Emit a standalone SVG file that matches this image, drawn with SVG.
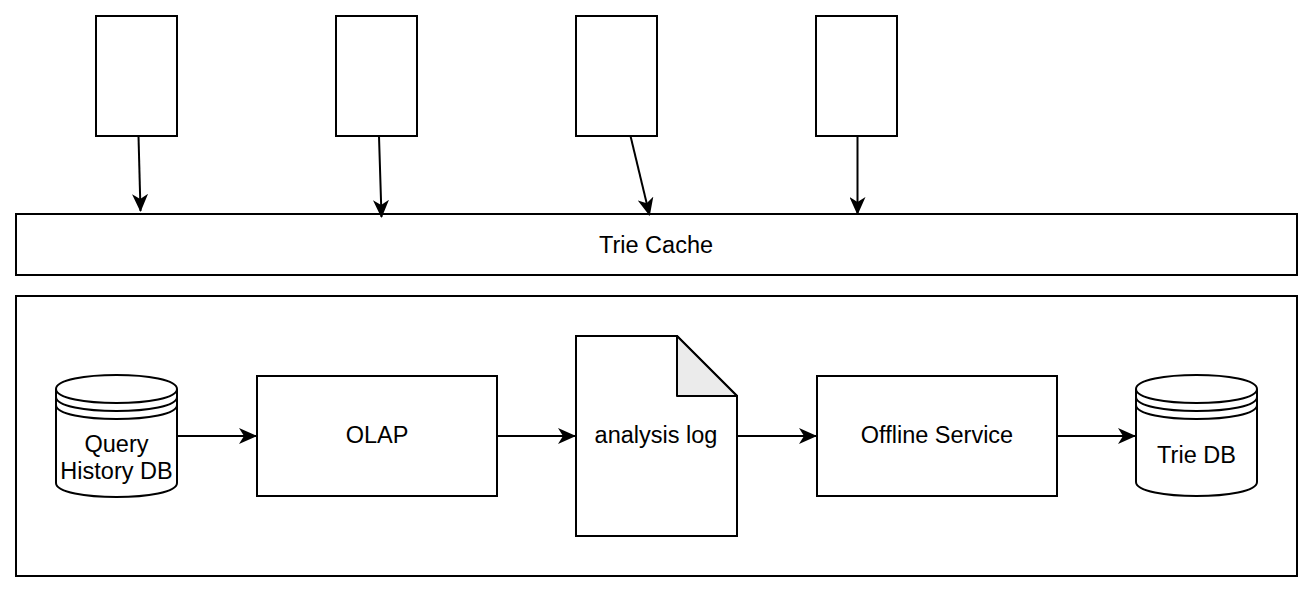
<svg xmlns="http://www.w3.org/2000/svg" width="1314" height="594" viewBox="0 0 1314 594">
<style>
.s{fill:#fff;stroke:#000;stroke-width:2}
.t{font-family:"Liberation Sans",Arial,sans-serif;font-size:23.5px;fill:#000;text-anchor:middle}
.c{fill:none;stroke:#000;stroke-width:2}
</style>
<defs>
<marker id="a" markerUnits="userSpaceOnUse" markerWidth="18" markerHeight="16" viewBox="0 0 18 16" refX="17" refY="8" orient="auto">
<path d="M0,0 L18,8 L0,16 L5,8 Z" fill="#000"/>
</marker>
</defs>
<rect width="1314" height="594" fill="#fff"/>
<g id="client1"><rect class="s" x="96" y="16" width="81" height="120"/></g>
<g id="client2"><rect class="s" x="336" y="16" width="81" height="120"/></g>
<g id="client3"><rect class="s" x="576" y="16" width="81" height="120"/></g>
<g id="client4"><rect class="s" x="816" y="16" width="81" height="120"/></g>
<g id="trie-cache"><rect class="s" x="16" y="214" width="1281" height="61"/><text class="t" x="656" y="253">Trie Cache</text></g>
<g id="offline-container"><rect class="s" x="16" y="296" width="1281" height="280"/></g>
<g id="query-history-db">
<path class="s" d="M56,389 C56,370.33 177,370.33 177,389 L177,483 C177,501.67 56,501.67 56,483 Z"/>
<path class="c" d="M56,389 C56,407.67 177,407.67 177,389 M56,397 C56,415.67 177,415.67 177,397 M56,405 C56,423.67 177,423.67 177,405"/>
<text class="t" x="116.5" y="452">Query</text>
<text class="t" x="116.5" y="479">History DB</text>
</g>
<g id="olap"><rect class="s" x="257" y="376" width="240" height="120"/><text class="t" x="377" y="443">OLAP</text></g>
<g id="analysis-log">
<path class="s" d="M576,336 L677,336 L737,396 L737,536 L576,536 Z"/>
<path d="M677,336 L677,396 L737,396 Z" fill="#ebebeb" stroke="#000" stroke-width="2" stroke-linejoin="round"/>
<text class="t" x="656" y="443">analysis log</text>
</g>
<g id="offline-service"><rect class="s" x="817" y="376" width="240" height="120"/><text class="t" x="937" y="443">Offline Service</text></g>
<g id="trie-db">
<path class="s" d="M1136,389 C1136,370.33 1257,370.33 1257,389 L1257,482 C1257,500.67 1136,500.67 1136,482 Z"/>
<path class="c" d="M1136,389 C1136,407.67 1257,407.67 1257,389 M1136,397 C1136,415.67 1257,415.67 1257,397 M1136,405 C1136,423.67 1257,423.67 1257,405"/>
<text class="t" x="1196.5" y="463">Trie DB</text>
</g>
<g id="connectors">
<path class="c" marker-end="url(#a)" d="M138.5,136 L140.5,211"/>
<path class="c" marker-end="url(#a)" d="M379,136 L381.5,217"/>
<path class="c" marker-end="url(#a)" d="M630.5,136 L649.5,215"/>
<path class="c" marker-end="url(#a)" d="M857.5,136 L857.5,214"/>
<path class="c" marker-end="url(#a)" d="M177,436 L256,436"/>
<path class="c" marker-end="url(#a)" d="M497,436 L575,436"/>
<path class="c" marker-end="url(#a)" d="M737,436 L816,436"/>
<path class="c" marker-end="url(#a)" d="M1057,436 L1135,436"/>
</g>
</svg>
